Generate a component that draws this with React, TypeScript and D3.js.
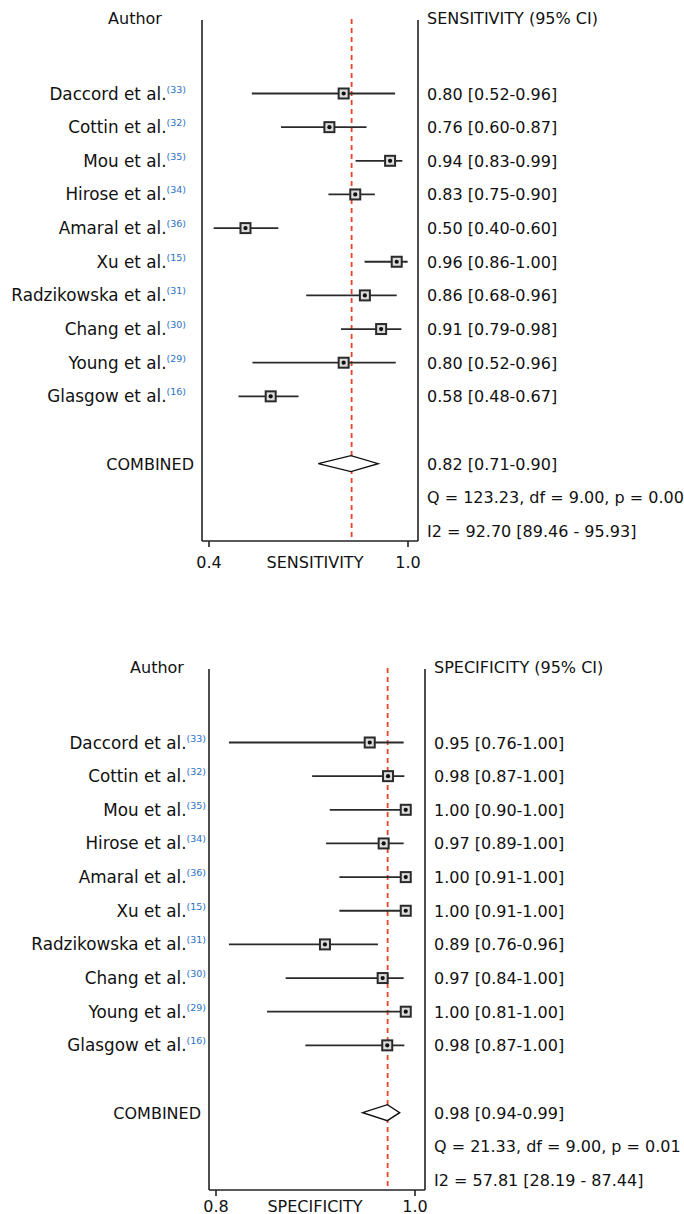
import React from "react";
import * as d3 from "d3";

const studies = ["Daccord et al.", "Cottin et al.", "Mou et al.", "Hirose et al.", "Amaral et al.", "Xu et al.", "Radzikowska et al.", "Chang et al.", "Young et al.", "Glasgow et al."];
const refs = ["(33)", "(32)", "(35)", "(34)", "(36)", "(15)", "(31)", "(30)", "(29)", "(16)"];

// Sensitivity
const sensPoint = [0.806, 0.763, 0.946, 0.841, 0.51, 0.966, 0.87, 0.919, 0.806, 0.586];
const sensLow = [0.529, 0.617, 0.842, 0.76, 0.414, 0.869, 0.693, 0.798, 0.531, 0.489];
const sensHigh = [0.961, 0.875, 0.983, 0.9, 0.609, 0.999, 0.966, 0.98, 0.963, 0.67];
const sensLabels = ["0.80 [0.52-0.96]", "0.76 [0.60-0.87]", "0.94 [0.83-0.99]", "0.83 [0.75-0.90]", "0.50 [0.40-0.60]", "0.96 [0.86-1.00]", "0.86 [0.68-0.96]", "0.91 [0.79-0.98]", "0.80 [0.52-0.96]", "0.58 [0.48-0.67]"];
const sensPooled = [0.7295, 0.828, 0.91];
const sensRef = 0.83;
const sensPooledLabel = "0.82 [0.71-0.90]";
const sensStats = ["Q = 123.23, df = 9.00, p = 0.00", "I2 = 92.70 [89.46 - 95.93]"];
const sensTicks = [0.4, 1.0];
const sensTickLabels = ["0.4", "1.0"];

// Specificity
const specPoint = [0.9545, 0.9729, 0.9907, 0.9685, 0.9907, 0.9907, 0.9095, 0.9675, 0.9907, 0.9721];
const specLow = [0.813, 0.8966, 0.9143, 0.9106, 0.924, 0.924, 0.813, 0.87, 0.8513, 0.8898];
const specHigh = [0.9886, 0.9893, 0.9907, 0.9886, 0.9907, 0.9907, 0.9628, 0.9886, 0.9907, 0.9893];
const specLabels = ["0.95 [0.76-1.00]", "0.98 [0.87-1.00]", "1.00 [0.90-1.00]", "0.97 [0.89-1.00]", "1.00 [0.91-1.00]", "1.00 [0.91-1.00]", "0.89 [0.76-0.96]", "0.97 [0.84-1.00]", "1.00 [0.81-1.00]", "0.98 [0.87-1.00]"];
const specPooled = [0.9475, 0.9722, 0.9846];
const specRef = 0.9725;
const specPooledLabel = "0.98 [0.94-0.99]";
const specStats = ["Q = 21.33, df = 9.00, p = 0.01", "I2 = 57.81 [28.19 - 87.44]"];
const specTicks = [0.8, 1.0];
const specTickLabels = ["0.8", "1.0"];

const FONT = "'DejaVu Sans', sans-serif";
const FS = 16;
const FS_LABEL = 16.8;

type PanelProps = {
  top: number;
  left: number;
  labelEnd: number;
  authorX: number;
  axisLabelDy: number;
  title: string;
  axisTitle: string;
  point: number[];
  low: number[];
  high: number[];
  labels: string[];
  pooled: number[];
  pooledLabel: string;
  refVal: number;
  stats: string[];
  ticks: number[];
  tickLabels: string[];
};

function Panel(p: PanelProps) {
  const L = p.left;
  const R = L + 216;
  const T = p.top;
  const B = T + 521;
  const x = d3.scaleLinear().domain([p.ticks[0], p.ticks[1]]).range([L + 7, L + 206]);
  const rowY0 = T + 73.5;
  const step = 33.65;
  const y = (i: number) => rowY0 + i * step;
  const textX = R + 9;
  const dy = 6;
  const yc = y(11);
  const dh = 8;
  const diamond = `M${x(p.pooled[0])},${yc} L${x(p.pooled[1])},${yc - dh} L${x(p.pooled[2])},${yc} L${x(p.pooled[1])},${yc + dh} Z`;
  return (
    <g fontFamily={FONT} fontSize={FS} fill="#111">
      <text x={p.authorX} y={T - 2 + dy} textAnchor="middle">Author</text>
      <text x={textX} y={T - 2 + dy}>{p.title}</text>
      {/* frame */}
      <line x1={L} x2={L} y1={T} y2={B} stroke="#222" strokeWidth={1.6} />
      <line x1={R} x2={R} y1={T} y2={B} stroke="#222" strokeWidth={1.6} />
      <line x1={L} x2={R} y1={B} y2={B} stroke="#222" strokeWidth={1.6} />
      {p.ticks.map((t, i) => (
        <g key={"t" + i}>
          <line x1={x(t)} x2={x(t)} y1={B} y2={B + 6} stroke="#222" strokeWidth={1.6} />
          <text x={x(t)} y={B + p.axisLabelDy} textAnchor="middle">{p.tickLabels[i]}</text>
        </g>
      ))}
      <text x={315} y={B + p.axisLabelDy} textAnchor="middle">{p.axisTitle}</text>
      {/* reference line */}
      <line x1={x(p.refVal)} x2={x(p.refVal)} y1={T - 1} y2={B} stroke="#ee4226" strokeWidth={1.8} strokeDasharray="5,4" />
      {/* studies */}
      {studies.map((s, i) => (
        <g key={s}>
          <text x={p.labelEnd} y={y(i) + dy} textAnchor="end" fontSize={FS_LABEL}>
            {s}
            <tspan fontSize={9.5} fill="#2a72c4" dy={-7}>{refs[i]}</tspan>
          </text>
          <line x1={x(p.low[i])} x2={x(p.high[i])} y1={y(i)} y2={y(i)} stroke="#2a2a2a" strokeWidth={1.8} />
          <rect x={x(p.point[i]) - 5} y={y(i) - 5} width={10} height={10} fill="#dcdcdc" stroke="#2a2a2a" strokeWidth={2} />
          <circle cx={x(p.point[i])} cy={y(i)} r={2.1} fill="#111" />
          <text x={textX} y={y(i) + dy}>{p.labels[i]}</text>
        </g>
      ))}
      <text x={L - 8} y={yc + dy} textAnchor="end">COMBINED</text>
      <path d={diamond} fill="#fff" stroke="#111" strokeWidth={1.4} />
      <text x={textX} y={yc + dy}>{p.pooledLabel}</text>
      <text x={textX} y={y(12) + dy}>{p.stats[0]}</text>
      <text x={textX} y={y(13) + dy}>{p.stats[1]}</text>
    </g>
  );
}

export default function App() {
  return (
    <svg width={684} height={1214} style={{ position: "absolute", left: 0, top: 0, background: "#fff" }}>
      <rect width={684} height={1214} fill="#fff" />
      <Panel top={20} left={202} labelEnd={186} authorX={135} axisLabelDy={26.5}
        title="SENSITIVITY (95% CI)" axisTitle="SENSITIVITY"
        point={sensPoint} low={sensLow} high={sensHigh} labels={sensLabels}
        pooled={sensPooled} pooledLabel={sensPooledLabel} refVal={sensRef} stats={sensStats}
        ticks={sensTicks} tickLabels={sensTickLabels} />
      <Panel top={669} left={209} labelEnd={206} authorX={157} axisLabelDy={21.5}
        title="SPECIFICITY (95% CI)" axisTitle="SPECIFICITY"
        point={specPoint} low={specLow} high={specHigh} labels={specLabels}
        pooled={specPooled} pooledLabel={specPooledLabel} refVal={specRef} stats={specStats}
        ticks={specTicks} tickLabels={specTickLabels} />
    </svg>
  );
}
